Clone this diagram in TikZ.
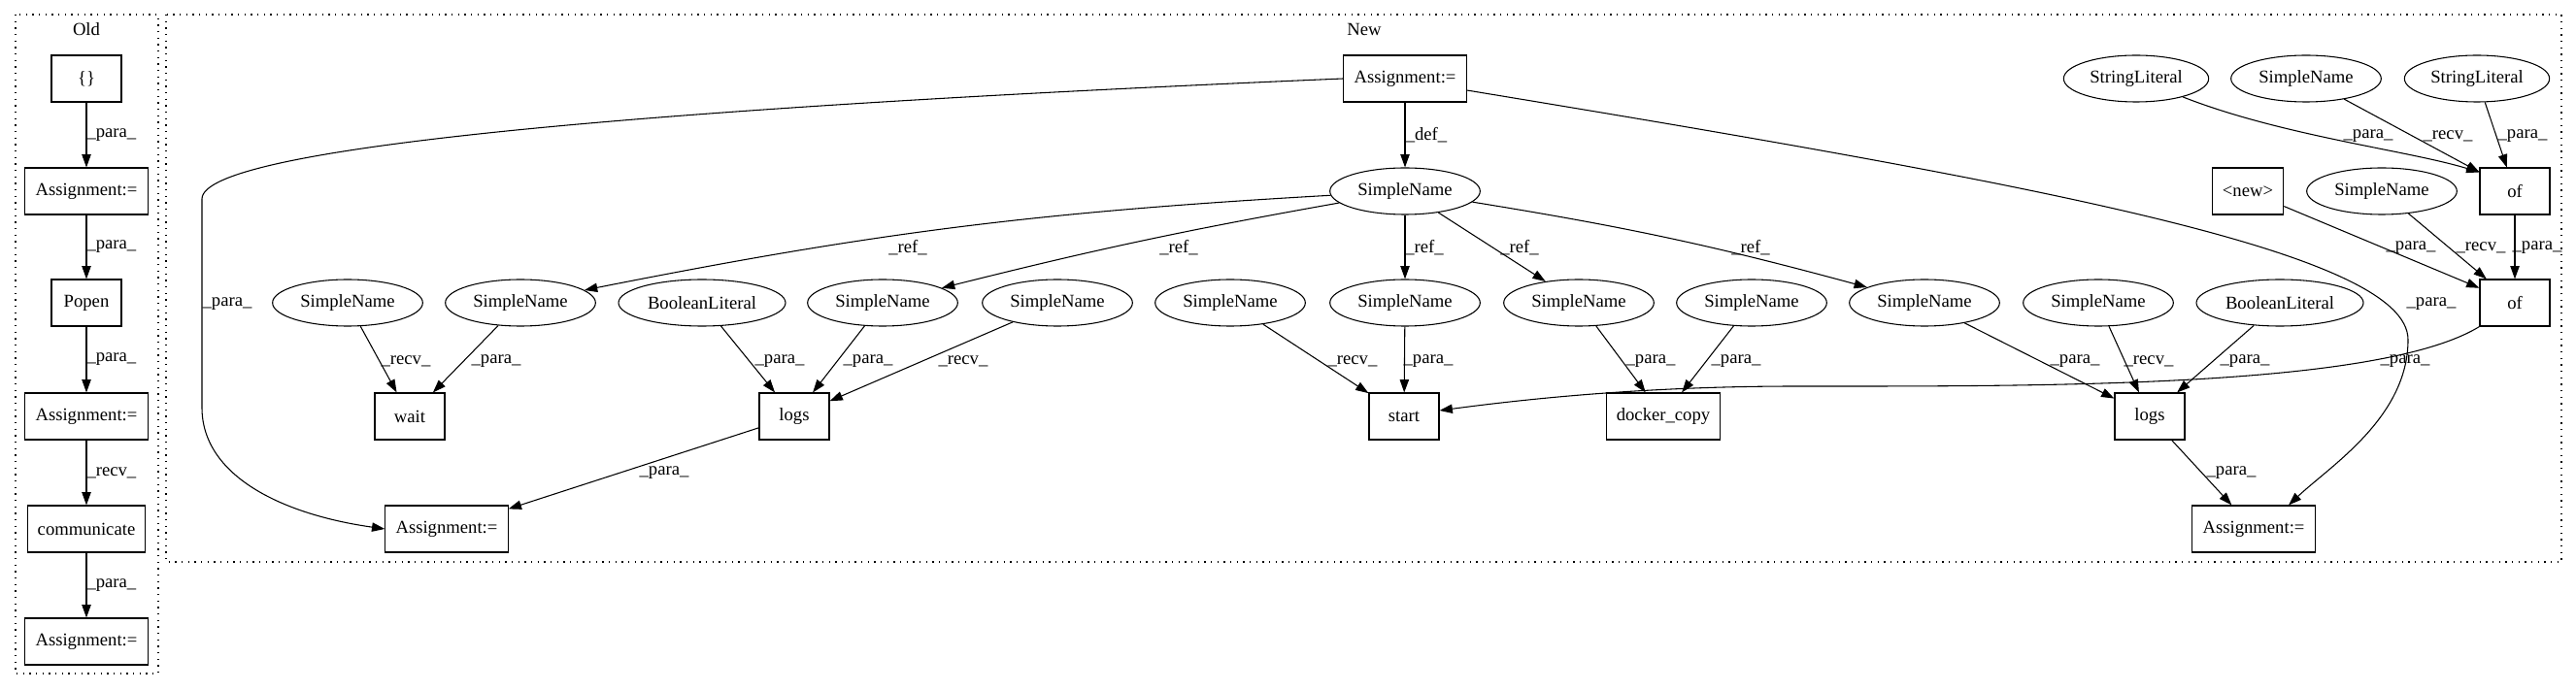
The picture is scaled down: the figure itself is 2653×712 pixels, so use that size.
\documentclass[tikz,border=0pt]{standalone}
\usepackage{fontspec}
\setmainfont{Liberation Serif}
\usetikzlibrary{arrows.meta,calc,shapes.geometric}
\begin{document}
\begin{tikzpicture}[x=0.75pt,y=-0.75pt,
  every node/.style={font=\fontsize{14}{16}\selectfont},
  box/.style={draw,line width=0.8pt,rectangle,minimum width=54pt,minimum height=36pt,inner xsep=8pt,inner ysep=0pt},
  ell/.style={draw,line width=0.8pt,ellipse,minimum width=116pt,minimum height=36pt,inner sep=0pt},
  ellsl/.style={ell,minimum width=112pt},
  ellbl/.style={ell,minimum width=129pt},
  conn/.style={line width=0.8pt,-{Triangle[length=10pt,width=7pt]}},
  lbl/.style={inner sep=0pt},
  clus/.style={line width=0.8pt,dash pattern=on 1pt off 4pt}
]
\useasboundingbox (0,0) rectangle (2653,712);
% clusters
\draw[clus] (16,15) rectangle (163,694);
\node (oldlbl) at (89,30) {Old};
\draw[clus] (171,15) rectangle (2638,579);
\node (newlbl) at (1405,30) {New};

% Old nodes
\node[box] (o1) at (89,81) {\{\}};
\node[box] (o2) at (89,197) {Assignment:=};
\node[box] (o3) at (89,312) {Popen};
\node[box] (o4) at (89,429) {Assignment:=};
\node[box] (o5) at (89,545) {communicate};
\node[box] (o6) at (89,661) {Assignment:=};

\draw[conn] (o1) -- (o2) node[lbl,anchor=west,pos=0.5] (ol1) {\_para\_};
\draw[conn] (o2) -- (o3) node[lbl,anchor=west,pos=0.5] (ol2) {\_para\_};
\draw[conn] (o3) -- (o4) node[lbl,anchor=west,pos=0.5] (ol3) {\_para\_};
\draw[conn] (o4) -- (o5) node[lbl,anchor=west,pos=0.5] (ol4) {\_recv\_};
\draw[conn] (o5) -- (o6) node[lbl,anchor=west,pos=0.5] (ol5) {\_para\_};

% New: rank 0
\node[box] (a0) at (1447,81) {Assignment:=};
\node[ellsl] (sl1) at (2200,81) {StringLiteral};
\node[ell] (sn1) at (2375,81) {SimpleName};
\node[ellsl] (sl2) at (2551,81) {StringLiteral};
% rank 1
\node[ell] (s0) at (1447,197) {SimpleName};
\node[box] (nw) at (2315,197) {<new>};
\node[ell] (sn2) at (2453,197) {SimpleName};
\node[box] (of1) at (2590,197) {of};
% rank 2
\node[ell] (r1) at (358,312) {SimpleName};
\node[ell] (r2) at (536,312) {SimpleName};
\node[ellbl] (r3) at (723,312) {BooleanLiteral};
\node[ell] (r4) at (909,312) {SimpleName};
\node[ell] (r5) at (1089,312) {SimpleName};
\node[ell] (r6) at (1267,312) {SimpleName};
\node[ell] (r7) at (1447,312) {SimpleName};
\node[ell] (r8) at (1626,312) {SimpleName};
\node[ell] (r9) at (1804,312) {SimpleName};
\node[ell] (r10) at (1982,312) {SimpleName};
\node[ell] (r11) at (2161,312) {SimpleName};
\node[ellbl] (r12) at (2348,312) {BooleanLiteral};
\node[box] (of2) at (2590,312) {of};
% rank 3
\node[box] (wait) at (422,429) {wait};
\node[box] (logs1) at (818,429) {logs};
\node[box] (start) at (1446,429) {start};
\node[box] (dc) at (1713,429) {docker\_copy};
\node[box] (logs2) at (2214,429) {logs};
% rank 4
\node[box] (as1) at (460,545) {Assignment:=};
\node[box] (as2) at (2321,545) {Assignment:=};

% edges
\draw[conn] (a0) -- (s0) node[lbl] (l1) at (1469,139) {\_def\_};
\draw[conn] (a0.west) .. controls (700,110) and (208,150) .. (208,205) -- (208,420)
   .. controls (208,490) and (290,530) .. (as1.west)
   node[lbl] (l2) at (234,313) {\_para\_};
\draw[conn] ($(a0.east)+(0,12)$) .. controls (2100,190) and (2480,260) .. (2480,350)
   .. controls (2480,430) and (2400,480) .. ($(as2.north)+(36,0)$)
   node[lbl] (l3) at (2504,313) {\_para\_};
\draw[conn] (s0) to[bend right=4] (r2) node[lbl] (l4) at (935,255) {\_ref\_};
\draw[conn] (s0) to[bend right=2] (r4) node[lbl] (l5) at (1214,255) {\_ref\_};
\draw[conn] (s0) -- (r7) node[lbl] (l6) at (1467,255) {\_ref\_};
\draw[conn] (s0) -- (r8) node[lbl] (l7) at (1565,255) {\_ref\_};
\draw[conn] (s0) to[bend left=3] (r10) node[lbl] (l8) at (1803,255) {\_ref\_};
\draw[conn] (r1) -- (wait) node[lbl] (l9) at (418,372) {\_recv\_};
\draw[conn] (r2) -- (wait) node[lbl] (l10) at (511,372) {\_para\_};
\draw[conn] (r3) -- (logs1) node[lbl] (l11) at (803,372) {\_para\_};
\draw[conn] (r4) -- (logs1) node[lbl] (l12) at (894,372) {\_para\_};
\draw[conn] (r5) -- (logs1) node[lbl] (l13) at (992,372) {\_recv\_};
\draw[conn] (logs1) -- (as1) node[lbl] (l14) at (684,487) {\_para\_};
\draw[conn] (r6) -- (start) node[lbl] (l15) at (1393,372) {\_recv\_};
\draw[conn] (r7) -- (start) node[lbl] (l16) at (1471,372) {\_para\_};
\draw[conn] (r8) -- (dc) node[lbl] (l17) at (1700,372) {\_para\_};
\draw[conn] (r9) -- (dc) node[lbl] (l18) at (1788,372) {\_para\_};
\draw[conn] (r10) -- (logs2) node[lbl] (l19) at (2137,372) {\_para\_};
\draw[conn] (r11) -- (logs2) node[lbl] (l20) at (2213,372) {\_recv\_};
\draw[conn] (r12) -- (logs2) node[lbl] (l21) at (2312,372) {\_para\_};
\draw[conn] (logs2) -- (as2) node[lbl] (l22) at (2298,487) {\_para\_};
\draw[conn] (of2.south west) .. controls (2450,400) and (2100,398) .. (1850,398)
   .. controls (1700,398) and (1580,410) .. ($(start.east)+(0,-6)$)
   node[lbl] (l23) at (2477,372) {\_para\_};
\draw[conn] (sl1) .. controls (2350,140) and (2480,155) .. ($(of1.north west)+(0,5)$)
   node[lbl] (l24) at (2439,140) {\_para\_};
\draw[conn] (sn1) -- (of1) node[lbl] (l25) at (2521,140) {\_recv\_};
\draw[conn] (sl2) -- (of1) node[lbl] (l26) at (2598,140) {\_para\_};
\draw[conn] (nw) -- (of2) node[lbl] (l27) at (2483,255) {\_para\_};
\draw[conn] (sn2) -- (of2) node[lbl] (l28) at (2555,255) {\_recv\_};
\draw[conn] (of1) -- (of2) node[lbl] (l29) at (2613,255) {\_para\_};
\end{tikzpicture}
\end{document}
